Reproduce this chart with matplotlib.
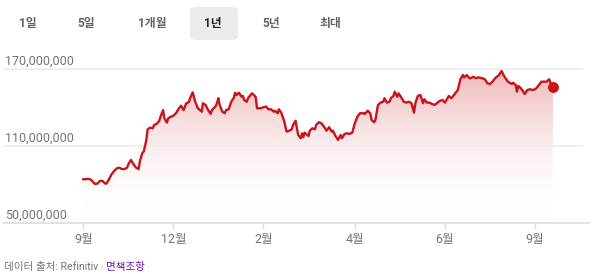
import matplotlib
matplotlib.use("Agg")
import matplotlib.pyplot as plt
import numpy as np
from matplotlib.colors import LinearSegmentedColormap
from matplotlib.patches import FancyBboxPatch

plt.rcParams["font.family"] = ["Roboto", "Noto Sans CJK KR", "DejaVu Sans"]

# day offset from start of the 1-year window, and value
DAYS = [
    0, 4, 6, 9, 11, 13, 15, 17, 18, 20, 22, 24, 26, 28, 30, 32, 34, 35, 37, 39,
    41, 43, 44, 46, 47, 49, 50, 52, 54, 55, 57, 59, 60, 62, 63, 65, 66, 68, 70, 72,
    74, 76, 78, 80, 82, 83, 85, 87, 89, 92, 93, 95, 97, 99, 100, 103, 104, 105, 106, 108,
    110, 111, 113, 115, 117, 118, 119, 121, 123, 124, 125, 127, 128, 131, 132, 134, 135, 138, 140, 142,
    144, 146, 148, 149, 151, 152, 154, 156, 158, 160, 162, 163, 165, 166, 167, 169, 170, 171, 172, 174,
    175, 176, 178, 180, 181, 183, 185, 187, 189, 191, 193, 194, 196, 198, 200, 201, 203, 205, 207, 209,
    211, 213, 215, 218, 219, 221, 223, 224, 226, 227, 229, 231, 233, 234, 236, 238, 239, 241, 242, 244,
    245, 247, 249, 251, 253, 255, 257, 258, 260, 262, 264, 265, 267, 269, 271, 273, 275, 276, 279, 281,
    284, 286, 288, 291, 293, 295, 296, 298, 300, 301, 303, 305, 307, 310, 312, 314, 316, 318, 320, 323,
    325, 327, 328, 330, 333, 334, 336, 337, 338, 340, 341, 343, 345, 347, 349, 351, 352, 354, 356, 358,
    360, 362, 363, 365,
]
VALUES = [
    84.1, 84.3, 83.8, 80.4, 80.7, 82.8, 82.8, 80.7, 80.7, 84.1, 88.0, 90.5, 92.6, 93.1, 92.0, 92.0, 93.1, 95.8, 99.1, 95.8,
    93.1, 92.0, 98.3, 104.8, 105.6, 114.7, 123.0, 124.3, 123.8, 126.4, 127.2, 129.5, 132.8, 138.0, 131.6, 128.2, 131.6, 132.8, 133.6, 135.5,
    138.8, 141.4, 138.0, 143.3, 144.1, 147.2, 151.8, 144.5, 139.5, 136.7, 143.3, 142.0, 138.0, 135.0, 138.0, 141.2, 143.8, 147.2, 142.0, 136.7,
    135.5, 138.0, 138.6, 144.5, 147.7, 151.5, 149.7, 151.5, 148.4, 149.0, 145.9, 144.5, 147.2, 151.0, 150.3, 148.0, 139.4, 139.4, 140.2, 140.7,
    138.6, 138.6, 136.7, 137.5, 135.5, 138.6, 135.5, 129.7, 121.2, 121.9, 123.0, 126.4, 129.7, 123.8, 118.6, 116.0, 119.9, 116.8, 120.4, 118.6,
    117.8, 121.9, 123.8, 123.0, 126.4, 128.5, 127.7, 125.1, 121.9, 124.6, 121.2, 121.9, 117.8, 114.7, 118.6, 116.0, 119.4, 119.9, 119.4, 120.4,
    127.7, 132.8, 135.5, 135.5, 135.0, 137.5, 135.5, 130.3, 128.5, 130.3, 142.0, 143.8, 144.5, 147.2, 143.8, 144.5, 147.2, 149.0, 152.3, 148.4,
    151.0, 148.0, 144.5, 143.8, 144.5, 143.3, 136.0, 143.3, 149.0, 149.7, 143.3, 146.4, 143.8, 143.8, 142.7, 142.0, 143.5, 144.5, 145.9, 143.8,
    149.0, 147.2, 149.7, 153.6, 162.0, 165.3, 163.5, 165.3, 162.8, 162.8, 164.0, 162.8, 163.5, 162.8, 162.0, 158.9, 158.3, 160.1, 162.8, 165.3,
    168.4, 164.5, 162.8, 160.1, 158.3, 159.3, 157.5, 152.3, 156.8, 155.0, 153.6, 150.5, 153.6, 154.2, 153.6, 154.2, 155.0, 157.5, 160.1, 160.1,
    160.1, 162.0, 159.3, 156.2,
]

TICK_DAYS = [0, 70, 140, 211, 281, 351]
TICK_LABELS = ["9월", "12월", "2월", "4월", "6월", "9월"]
Y_TICKS = [50, 110, 170]  # millions

TABS = ["1일", "5일", "1개월", "1년", "5년", "최대"]
ACTIVE_TAB = "1년"

RED = "#c8141a"
GRAY_TEXT = "#70757a"
GRID = "#ececec"

W, H = 599, 274


def px_box(x0, y0, x1, y1):
    return [x0 / W, 1 - y1 / H, (x1 - x0) / W, (y1 - y0) / H]


def main():
    fig = plt.figure(figsize=(W / 100, H / 100), dpi=100)
    ax = fig.add_axes(px_box(4, 60, 583, 223))

    x = np.array(DAYS, dtype=float)
    y = np.array(VALUES) * 1e6

    ymin, ymax = 50e6, 177e6
    ax.set_xlim(-61.6, 388.3)
    ax.set_ylim(ymin, ymax)

    # gradient fill under the line
    cmap = LinearSegmentedColormap.from_list("fade", [(1, 1, 1, 0), (0.84, 0.25, 0.27, 0.38)])
    grad = np.linspace(0, 1, 256).reshape(-1, 1)
    top = y.max()
    im = ax.imshow(grad, aspect="auto", cmap=cmap, origin="lower",
                   extent=[x[0], x[-1], ymin, top], zorder=1)
    poly = ax.fill_between(x, y, ymin, color="none", linewidth=0)
    im.set_clip_path(poly.get_paths()[0], transform=ax.transData)

    for v in Y_TICKS[1:]:
        ax.axhline(v * 1e6, color=GRID, linewidth=1.2, zorder=2)
    ax.plot([-61.6, 393], [ymin, ymin], color="#dadce0", linewidth=1.2, zorder=2, clip_on=False)

    ax.plot(x, y, color=RED, linewidth=1.7, zorder=3, solid_joinstyle="round")
    ax.plot(x[-1], y[-1], "o", color=RED, markersize=6.8, zorder=4)

    for v in Y_TICKS:
        ax.text(-61.0, v * 1e6 + 0.8e6, f"{v * 1_000_000:,}", ha="left", va="bottom",
                fontsize=9, color=GRAY_TEXT)

    for spine in ax.spines.values():
        spine.set_visible(False)
    ax.set_yticks([])
    ax.set_xticks(TICK_DAYS)
    ax.set_xticklabels(TICK_LABELS)
    ax.tick_params(axis="x", length=4, width=1, color="#dadce0", labelsize=9,
                   labelcolor=GRAY_TEXT, pad=3)

    # range selector tabs
    tab_x = [28, 86, 152, 213, 271, 330]
    box = FancyBboxPatch((190 / W, 1 - 40 / H), 48 / W, 33 / H,
                         boxstyle="round,pad=0,rounding_size=0.012",
                         transform=fig.transFigure, facecolor="#ebebeb",
                         edgecolor="none")
    fig.add_artist(box)
    for tx, label in zip(tab_x, TABS):
        active = label == ACTIVE_TAB
        fig.text(tx / W, 1 - 23 / H, label, ha="center", va="center",
                 fontsize=8.5, fontweight="bold",
                 color="#202124" if active else "#5f6368")

    src = fig.text(4 / W, 1 - 267 / H, "데이터 출처: Refinitiv · ", ha="left", va="center",
                   fontsize=7.6, color=GRAY_TEXT)
    fig.canvas.draw()
    bb = src.get_window_extent()
    fig.text(bb.x1 / W, 1 - 267 / H, "면책조항", ha="left", va="center",
             fontsize=7.6, color="#681da8")

    fig.savefig("out.png", dpi=100)


if __name__ == "__main__":
    main()
